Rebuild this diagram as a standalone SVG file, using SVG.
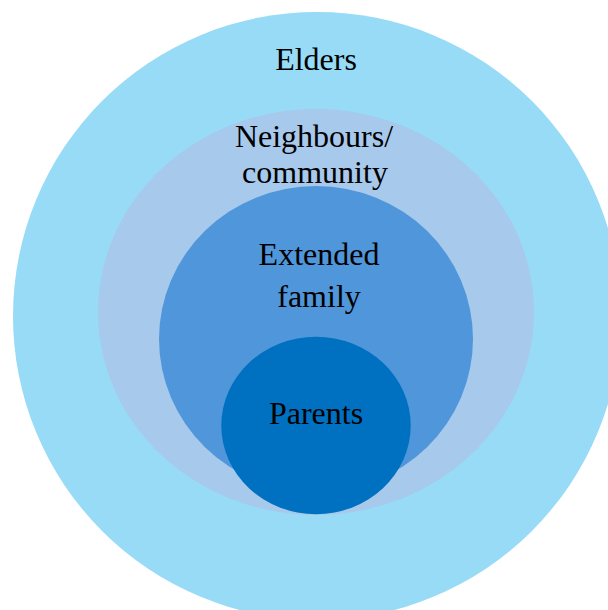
<svg xmlns="http://www.w3.org/2000/svg" width="608" height="610" viewBox="0 0 608 610">
  <style>
    .lbl { font-family: "Liberation Serif", "Times New Roman", serif; font-size: 32px; fill: #000; text-anchor: middle; }
  </style>
  <rect width="608" height="610" fill="#ffffff"/>
  <g id="elders">
    <circle cx="317" cy="316" r="304" fill="#97DBF7"/>
    <text class="lbl" x="316" y="70">Elders</text>
  </g>
  <g id="neighbours">
    <ellipse cx="316" cy="312" rx="218" ry="203" fill="#A7C9EB"/>
    <text class="lbl" x="314" y="147">Neighbours/</text>
    <text class="lbl" x="315" y="183">community</text>
  </g>
  <g id="extended-family">
    <ellipse cx="316" cy="339" rx="157" ry="153" fill="#5096DA"/>
    <text class="lbl" x="319" y="265">Extended</text>
    <text class="lbl" x="319" y="307">family</text>
  </g>
  <g id="parents">
    <ellipse cx="316" cy="425.5" rx="94.7" ry="88.7" fill="#0070C0"/>
    <text class="lbl" x="316" y="424">Parents</text>
  </g>
  <g id="connectors"/>
</svg>
